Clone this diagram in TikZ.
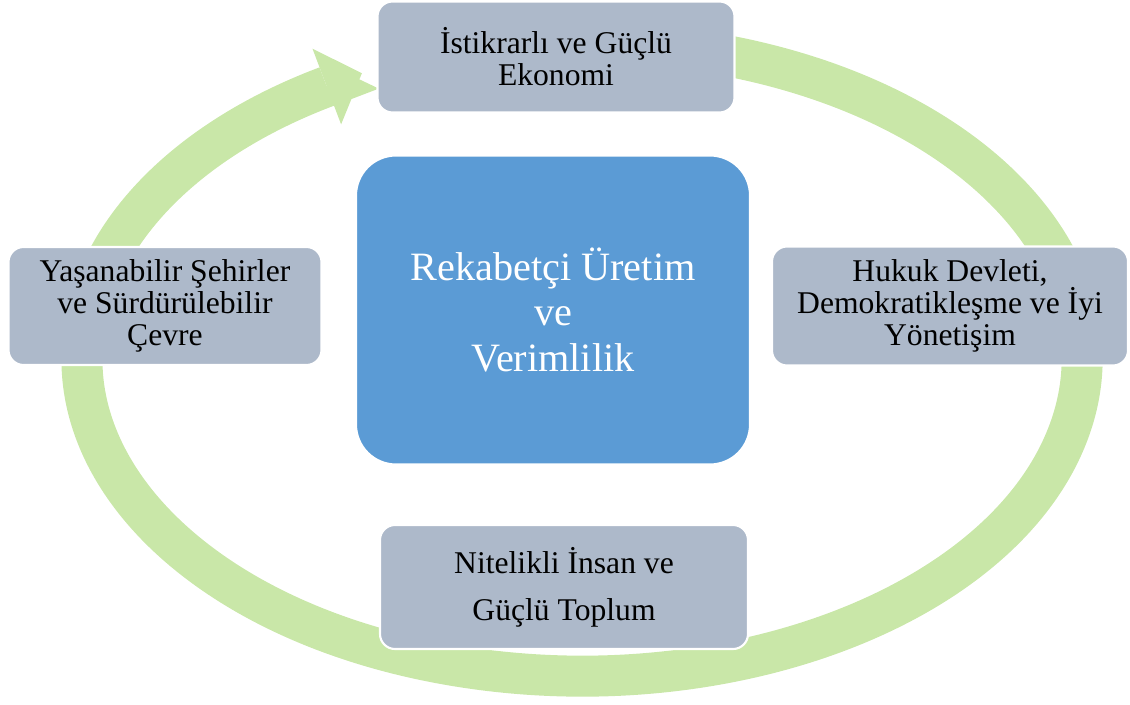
\documentclass[tikz,border=0pt]{standalone}
\usepackage{fontspec}
\setmainfont{Liberation Serif}
\usetikzlibrary{arrows.meta,positioning}

\definecolor{ringgreen}{RGB}{201,231,168}
\definecolor{goalgrey}{RGB}{173,185,202}
\definecolor{coreblue}{RGB}{91,155,213}

\tikzset{
  goalbox/.style={rectangle, rounded corners=0.3cm, fill=goalgrey, draw=white, line width=1.2pt,
    align=center, inner sep=0pt, font=\fontsize{18}{18.2}\selectfont},
  corebox/.style={rectangle, rounded corners=0.8cm, fill=coreblue, draw=white, line width=1.2pt,
    text=white, align=center, minimum width=7.88cm, minimum height=6.18cm,
    font=\fontsize{22.9}{25.9}\selectfont},
  ringarrow/.style={draw=ringgreen, line width=0.82cm}
}

\begin{document}
\begin{tikzpicture}
\useasboundingbox (0,0) rectangle (22.6,14.08);

% green cycle arrow
\draw[ringarrow, -{Triangle[length=0.75cm, width=1.62cm, line width=0pt]}]
  (14.06,13.05) arc[start angle=76, end angle=-239.3, x radius=10, y radius=6.34] -- ++(20.7:0.75);

\node[corebox] (core) at (11.06,7.88) {Rekabetçi Üretim\\ve\\Verimlilik};

\node[goalbox, minimum width=7.14cm, minimum height=2.22cm] (economy) at (11.12,12.94) {İstikrarlı ve Güçlü\\Ekonomi};
\node[goalbox, minimum width=7.12cm, minimum height=2.38cm] (law) at (19.0,7.96) {Hukuk Devleti,\\Demokratikleşme ve İyi\\Yönetişim};
\node[goalbox, minimum width=7.36cm, minimum height=2.48cm, font=\fontsize{18}{26.7}\selectfont] (society) at (11.28,2.34) {Nitelikli İnsan ve\\Güçlü Toplum};
\node[goalbox, minimum width=6.26cm, minimum height=2.36cm] (city) at (3.30,7.96) {Yaşanabilir Şehirler\\ve Sürdürülebilir\\Çevre};
\end{tikzpicture}
\end{document}
